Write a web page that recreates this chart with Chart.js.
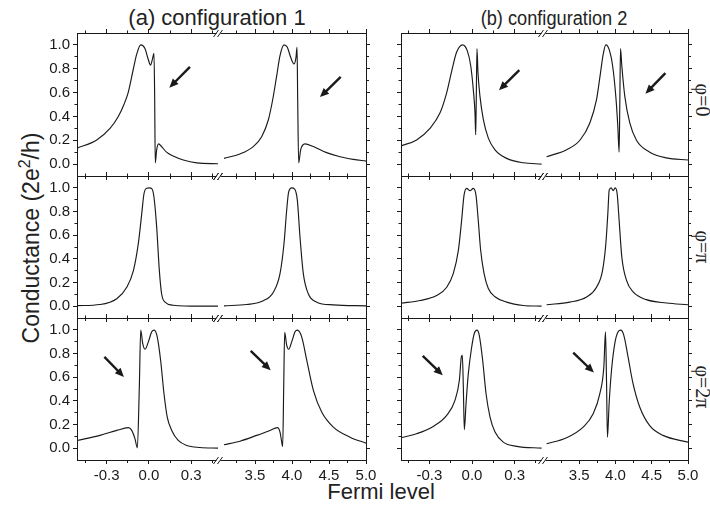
<!DOCTYPE html>
<html><head><meta charset="utf-8">
<script src="https://cdn.jsdelivr.net/npm/chart.js@4.4.0/dist/chart.umd.min.js"></script>
<style>
html,body{margin:0;padding:0;background:#fff;}
#wrap{position:relative;width:710px;height:507px;overflow:hidden;background:#fff;font-family:"Liberation Sans",Arial,Helvetica,sans-serif;color:#222;}
#wrap canvas{position:absolute;}
.t{position:absolute;white-space:nowrap;line-height:1;transform:translate(-50%,-50%);}
.phi{font-size:20px;font-family:'Liberation Serif','DejaVu Serif',serif;transform:translate(-50%,-50%) rotate(90deg);}
</style></head><body><div id="wrap">
<div class="t" style="left:217px;top:18px;font-size:22px;">(a) configuration 1</div>
<div class="t" style="left:554px;top:18px;font-size:20px;transform:translate(-50%,-50%) scaleX(0.91);">(b) configuration 2</div>
<div class="t" style="left:31px;top:238px;font-size:23px;transform:translate(-50%,-50%) rotate(-90deg);">Conductance (2e<span style="font-size:16px;position:relative;top:-9px;">2</span>/h)</div>
<div class="t" style="left:381px;top:492px;font-size:22px;">Fermi level</div>
<div class="t phi" style="left:703px;top:100px;">φ=0</div>
<div class="t phi" style="left:703px;top:247px;">φ=π</div>
<div class="t phi" style="left:703px;top:387px;">φ=2π</div>
</div>
<script>
// ---------- tick values ----------
const yMajor = [0, 0.2, 0.4, 0.6, 0.8, 1.0];
const yMinor = [0.1, 0.3, 0.5, 0.7, 0.9];
const xMajorLow = [-0.3, 0.0, 0.3];
const xMinorLow = [-0.45, -0.15, 0.15, 0.45];
const xMajorHigh = [3.5, 4.0, 4.5, 5.0];
const xMinorHigh = [3.25, 3.75, 4.25, 4.75];

// ---------- data (Fermi level, conductance) ----------
// configuration 1, phi = 0
const eC1P0Low = [-0.51,-0.37,-0.276,-0.217,-0.177,-0.147,-0.11,-0.087,-0.058,-0.028,-0.005,0.012,0.025,0.036,0.041,0.045,0.055,0.069,0.09,0.125,0.172,0.244,0.339,0.49];
const gC1P0Low = [0.133,0.203,0.30,0.40,0.50,0.60,0.80,0.92,1.0,0.97,0.88,0.83,0.88,0.93,0.54,0.01,0.12,0.17,0.147,0.10,0.068,0.034,0.01,0.003];
const eC1P0High = [3.081,3.297,3.477,3.59,3.68,3.739,3.793,3.838,3.892,3.937,3.982,4.027,4.054,4.068,4.077,4.09,4.117,4.176,4.288,4.468,4.649,4.829,5.0];
const gC1P0High = [0.048,0.085,0.147,0.23,0.37,0.54,0.74,0.91,1.0,0.98,0.896,0.84,0.896,0.98,0.54,0.01,0.12,0.17,0.147,0.096,0.062,0.04,0.025];
// configuration 2, phi = 0
const eC2P0Low = [-0.5,-0.39,-0.296,-0.225,-0.178,-0.143,-0.108,-0.066,-0.033,-0.009,0.009,0.021,0.026,0.03,0.035,0.042,0.056,0.08,0.115,0.162,0.244,0.361,0.49];
const gC2P0Low = [0.153,0.203,0.30,0.43,0.60,0.78,0.94,1.0,0.95,0.825,0.627,0.43,0.246,0.54,0.97,0.77,0.57,0.373,0.218,0.12,0.048,0.011,0.0];
const eC2P0High = [3.05,3.326,3.509,3.646,3.738,3.794,3.83,3.867,3.913,3.96,4.004,4.032,4.05,4.06,4.069,4.087,4.128,4.197,4.289,4.472,4.702,5.0];
const gC2P0High = [0.062,0.12,0.20,0.345,0.54,0.77,0.92,1.0,0.96,0.825,0.57,0.316,0.10,0.54,0.97,0.825,0.57,0.345,0.2,0.1,0.052,0.034];
// configuration 1, phi = pi
const eC1PiLow = [-0.51,-0.347,-0.228,-0.157,-0.11,-0.075,-0.051,-0.035,-0.016,0.003,0.022,0.036,0.055,0.074,0.09,0.114,0.173,0.362,0.49];
const gC1PiLow = [0.004,0.014,0.063,0.16,0.30,0.53,0.78,0.95,0.997,1.0,0.99,0.92,0.67,0.30,0.105,0.034,0.008,0.0,0.0];
const eC1PiHigh = [3.081,3.388,3.613,3.748,3.838,3.892,3.928,3.955,3.996,4.036,4.072,4.108,4.153,4.22,4.334,4.558,5.0];
const gC1PiHigh = [0.003,0.014,0.046,0.118,0.275,0.53,0.81,0.965,1.0,0.99,0.896,0.585,0.275,0.105,0.034,0.011,0.003];
// configuration 2, phi = pi
const eC2PiLow = [-0.5,-0.366,-0.249,-0.178,-0.132,-0.096,-0.073,-0.056,-0.037,-0.014,0.009,0.028,0.044,0.061,0.085,0.115,0.162,0.244,0.361,0.49];
const gC2PiLow = [0.025,0.048,0.09,0.16,0.275,0.472,0.726,0.938,0.995,0.975,0.995,0.938,0.726,0.472,0.275,0.15,0.08,0.034,0.006,0.0];
const eC2PiHigh = [3.05,3.371,3.601,3.738,3.821,3.867,3.894,3.913,3.94,3.968,3.995,4.023,4.05,4.087,4.152,4.243,4.426,4.702,5.0];
const gC2PiHigh = [0.012,0.034,0.077,0.16,0.30,0.53,0.78,0.98,1.0,0.975,1.0,0.95,0.726,0.415,0.218,0.12,0.055,0.027,0.012];
// configuration 1, phi = 2pi
const eC12PiLow = [-0.51,-0.347,-0.228,-0.146,-0.122,-0.099,-0.082,-0.068,-0.058,-0.044,-0.028,-0.004,0.02,0.038,0.059,0.083,0.107,0.13,0.162,0.208,0.268,0.362,0.49];
const gC12PiLow = [0.065,0.108,0.15,0.173,0.15,0.08,0.003,0.517,0.997,0.885,0.836,0.898,0.983,0.997,0.94,0.743,0.46,0.263,0.15,0.065,0.023,0.006,0.0];
const eC12PiHigh = [3.081,3.297,3.523,3.703,3.802,3.838,3.865,3.874,3.888,3.901,3.928,3.955,3.996,4.041,4.072,4.131,4.199,4.288,4.401,4.558,4.784,5.0];
const gC12PiHigh = [0.029,0.059,0.108,0.15,0.173,0.136,0.037,0.014,0.517,0.978,0.87,0.836,0.898,0.983,0.997,0.94,0.743,0.49,0.305,0.178,0.093,0.042];
// configuration 2, phi = 2pi
const eC22PiLow = [-0.5,-0.39,-0.273,-0.178,-0.12,-0.089,-0.075,-0.068,-0.061,-0.054,-0.042,-0.026,-0.002,0.016,0.035,0.051,0.075,0.099,0.127,0.162,0.22,0.315,0.49];
const gC22PiLow = [0.088,0.122,0.184,0.277,0.404,0.574,0.771,0.785,0.517,0.156,0.376,0.63,0.856,0.969,0.997,0.955,0.743,0.46,0.263,0.136,0.051,0.015,0.0];
const eC22PiHigh = [3.05,3.326,3.554,3.692,3.784,3.839,3.862,3.876,3.889,3.912,3.945,3.99,4.036,4.073,4.114,4.173,4.242,4.334,4.472,4.655,5.0];
const gC22PiHigh = [0.037,0.088,0.178,0.29,0.46,0.686,0.983,0.574,0.093,0.376,0.658,0.884,0.983,0.997,0.955,0.771,0.545,0.348,0.19,0.108,0.051];

// arrows (data coordinates: tail x, tail y, head x, head y)
const arrowsC1P0Low = [[0.291,0.816,0.145,0.641]];
const arrowsC1P0High = [[4.658,0.731,4.378,0.562]];
const arrowsC2P0Low = [[0.333,0.788,0.19,0.619]];
const arrowsC2P0High = [[4.688,0.763,4.413,0.591]];
const arrowsC12PiLow = [[-0.316,0.771,-0.177,0.602]];
const arrowsC12PiHigh = [[3.442,0.822,3.712,0.658]];
const arrowsC22PiLow = [[-0.347,0.78,-0.206,0.616]];
const arrowsC22PiHigh = [[3.417,0.808,3.702,0.639]];

// ---------- layout ----------
const FONT = "'Liberation Sans', Arial, Helvetica, sans-serif";
const INK = '#1a1a1a';
const cols = [
  {low:{L:77,W:141,min:-0.51,max:0.49}, high:{L:218,W:148,min:3.0,max:5.0}},
  {low:{L:401,W:142,min:-0.5,max:0.5}, high:{L:543,W:145,min:3.0,max:5.0}}
];
const rows = [{T:33,H:143},{T:176,H:142},{T:318,H:142}];

const near = (v, arr) => arr.some(a => Math.abs(a - v) < 1e-6);

const arrowPlugin = {
  id: 'arrows',
  afterDatasetsDraw(chart, args, opts) {
    const list = opts.list || [];
    const {ctx} = chart; const x = chart.scales.x, y = chart.scales.y;
    list.forEach(a => {
      const x1 = x.getPixelForValue(a[0]), y1 = y.getPixelForValue(a[1]);
      const x2 = x.getPixelForValue(a[2]), y2 = y.getPixelForValue(a[3]);
      const ang = Math.atan2(y2 - y1, x2 - x1), hl = 9, hw = 4;
      const bx = x2 - hl * Math.cos(ang), by = y2 - hl * Math.sin(ang);
      ctx.save();
      ctx.strokeStyle = INK; ctx.fillStyle = INK; ctx.lineWidth = 2.4;
      ctx.beginPath(); ctx.moveTo(x1, y1); ctx.lineTo(bx + Math.cos(ang), by + Math.sin(ang)); ctx.stroke();
      ctx.beginPath(); ctx.moveTo(x2, y2);
      ctx.lineTo(bx - hw * Math.sin(ang), by + hw * Math.cos(ang));
      ctx.lineTo(bx + hw * Math.sin(ang), by - hw * Math.cos(ang));
      ctx.closePath(); ctx.fill();
      ctx.restore();
    });
  }
};
const breakPlugin = {
  id: 'brk',
  afterDraw(chart, args, opts) {
    if (!opts.on) return;
    const {ctx, chartArea} = chart;
    const cx = chartArea.left + 0.5;
    ctx.save();
    ctx.strokeStyle = INK; ctx.lineWidth = 1;
    [Math.round(chartArea.top) + 0.5, Math.round(chartArea.bottom) + 0.5].forEach(yy => {
      ctx.fillStyle = '#fff'; ctx.fillRect(cx - 2, yy - 1.5, 4, 3);
      [-2.5, 1.5].forEach(dx => {
        ctx.beginPath(); ctx.moveTo(cx + dx - 2.5, yy + 3.5); ctx.lineTo(cx + dx + 2.5, yy - 3.5); ctx.stroke();
      });
    });
    ctx.restore();
  }
};

const wrap = document.getElementById('wrap');

function makeSeg(ci, ri, part, E, G, arrows) {
  const seg = cols[ci][part], row = rows[ri];
  const isLow = part === 'low';
  const showY = ci === 0 && isLow;
  const showX = ri === 2;
  const pl = isLow ? (ci === 0 ? 45 : 10) : 12;
  const pr = isLow ? 12 : 14;
  const pt = 8, pb = showX ? 32 : 8;
  const cv = document.createElement('canvas');
  cv.width = seg.W + pl + pr; cv.height = row.H + pt + pb;
  cv.style.left = (seg.L - pl) + 'px'; cv.style.top = (row.T - pt) + 'px';
  cv.style.width = cv.width + 'px'; cv.style.height = cv.height + 'px';
  wrap.appendChild(cv);
  const xMaj = isLow ? xMajorLow : xMajorHigh;
  const xMin = isLow ? xMinorLow : xMinorHigh;
  const xAll = xMaj.concat(xMin).sort((a, b) => a - b);
  const yAll = yMajor.concat(yMinor).sort((a, b) => a - b);
  const dashOut = (maj) => ctx => (ctx.tick && !near(ctx.tick.value, maj)) ? [2, 20] : [];
  const dashIn = (maj) => ctx => (ctx.tick && !near(ctx.tick.value, maj)) ? [0, 1.5, 2.5, 20] : [];
  const gridBase = {drawOnChartArea: false, drawTicks: true, tickLength: 4, tickColor: INK, tickWidth: 1};
  const border = {display: true, color: INK, width: 1};
  const tickFont = {family: FONT, size: 15};
  new Chart(cv, {
    type: 'line',
    data: {datasets: [{
      data: E.map((e, i) => ({x: e, y: G[i]})),
      borderColor: INK, borderWidth: 1.15, pointRadius: 0, fill: false,
      cubicInterpolationMode: 'monotone', xAxisID: 'x', yAxisID: 'y'
    }]},
    options: {
      responsive: false, animation: false, devicePixelRatio: 1,
      layout: {padding: {left: isLow ? 0 : pl, right: isLow ? pr : 0, top: 0, bottom: 0}},
      plugins: {legend: {display: false}, tooltip: {enabled: false}, title: {display: false},
        arrows: {list: arrows || []}, brk: {on: !isLow}},
      scales: {
        x: {
          type: 'linear', position: 'bottom', min: seg.min, max: seg.max,
          afterBuildTicks: s => { s.ticks = xAll.map(v => ({value: v})); },
          afterFit: s => { s.height = pb; s.paddingLeft = 0; s.paddingRight = 0; },
          ticks: {display: showX, autoSkip: false, maxRotation: 0, padding: 3, font: tickFont, color: INK,
            callback: v => near(v, xMaj) ? v.toFixed(1) : ''},
          grid: Object.assign({}, gridBase, {tickBorderDash: dashOut(xMaj)}),
          border: border
        },
        xt: {
          type: 'linear', position: 'top', min: seg.min, max: seg.max,
          afterBuildTicks: s => { s.ticks = xAll.map(v => ({value: v})); },
          afterFit: s => { s.height = pt; s.paddingLeft = 0; s.paddingRight = 0; },
          ticks: {display: false, autoSkip: false},
          grid: Object.assign({}, gridBase, {tickBorderDash: dashIn(xMaj)}),
          border: border
        },
        y: {
          type: 'linear', position: isLow ? 'left' : 'right', min: -0.1, max: 1.1,
          afterBuildTicks: s => { s.ticks = yAll.map(v => ({value: v})); },
          afterFit: s => { s.width = isLow ? pl : pr; s.paddingTop = 0; s.paddingBottom = 0; },
          ticks: {display: showY, autoSkip: false, padding: 3, font: tickFont, color: INK,
            callback: v => near(v, yMajor) ? v.toFixed(1) : ''},
          grid: Object.assign({}, gridBase, {tickBorderDash: isLow ? dashIn(yMajor) : dashOut(yMajor)}),
          border: border
        }
      }
    },
    plugins: [arrowPlugin, breakPlugin]
  });
}

makeSeg(0, 0, 'low', eC1P0Low, gC1P0Low, arrowsC1P0Low);
makeSeg(0, 0, 'high', eC1P0High, gC1P0High, arrowsC1P0High);
makeSeg(1, 0, 'low', eC2P0Low, gC2P0Low, arrowsC2P0Low);
makeSeg(1, 0, 'high', eC2P0High, gC2P0High, arrowsC2P0High);
makeSeg(0, 1, 'low', eC1PiLow, gC1PiLow, []);
makeSeg(0, 1, 'high', eC1PiHigh, gC1PiHigh, []);
makeSeg(1, 1, 'low', eC2PiLow, gC2PiLow, []);
makeSeg(1, 1, 'high', eC2PiHigh, gC2PiHigh, []);
makeSeg(0, 2, 'low', eC12PiLow, gC12PiLow, arrowsC12PiLow);
makeSeg(0, 2, 'high', eC12PiHigh, gC12PiHigh, arrowsC12PiHigh);
makeSeg(1, 2, 'low', eC22PiLow, gC22PiLow, arrowsC22PiLow);
makeSeg(1, 2, 'high', eC22PiHigh, gC22PiHigh, arrowsC22PiHigh);
</script></body></html>
